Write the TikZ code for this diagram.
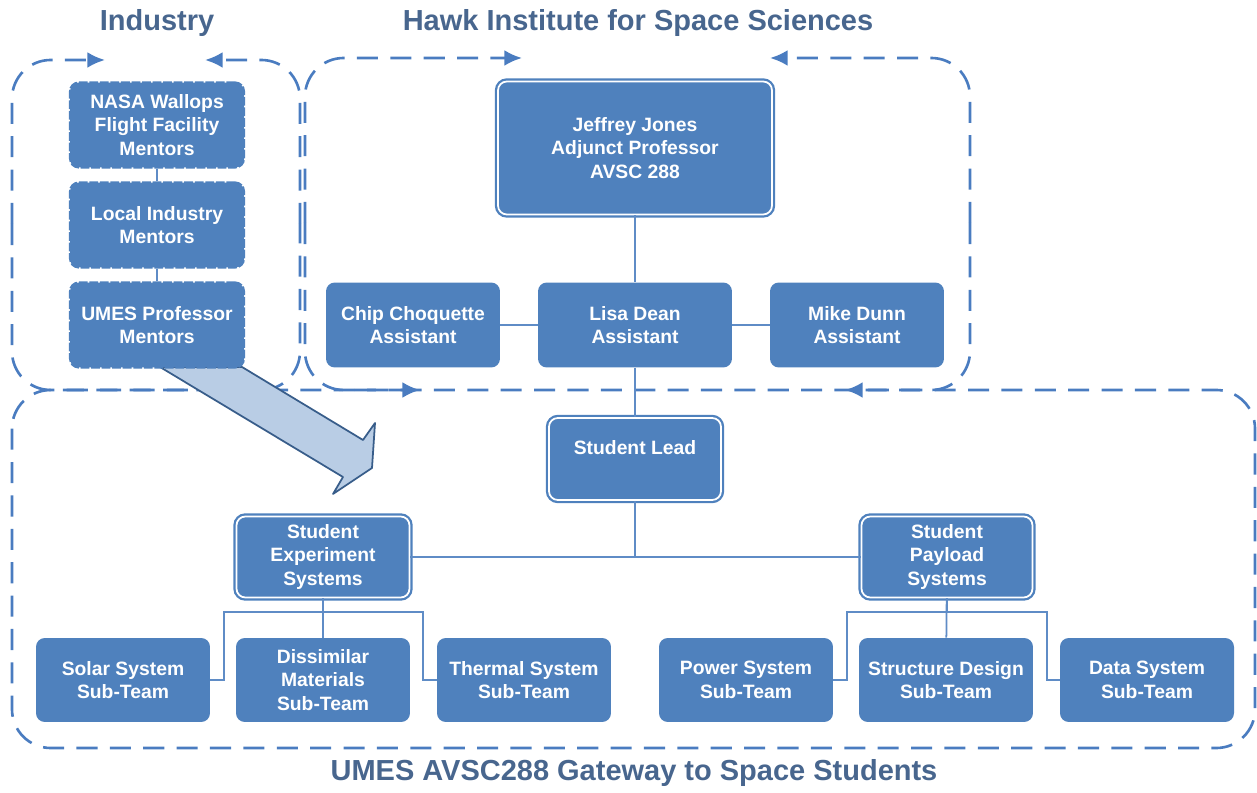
\documentclass[tikz,border=0pt]{standalone}
\usepackage{fontspec}
\setmainfont{Liberation Sans}
\usetikzlibrary{arrows.meta}
\definecolor{boxblue}{RGB}{79,129,189}
\definecolor{titleblue}{RGB}{72,102,142}
\definecolor{linkblue}{RGB}{95,140,198}
\definecolor{frameblue}{RGB}{74,124,192}
\definecolor{bigfill}{RGB}{185,205,229}
\definecolor{bigdraw}{RGB}{56,93,138}
\tikzset{
    orgbox/.style={rectangle, rounded corners=5pt, fill=boxblue, text=white,
        font=\bfseries\fontsize{11}{13.4}\selectfont, align=center, inner sep=1pt,
        minimum width=3.48cm, minimum height=1.7cm},
    mentor/.style={orgbox, draw=boxblue, line width=1.2pt, dash pattern=on 5pt off 1pt},
    headbox/.style={orgbox, draw=white, line width=1pt, preaction={draw=boxblue, line width=3.6pt}},
    link/.style={draw=linkblue, line width=1pt},
    frame/.style={draw=frameblue, line width=1.5pt, dash pattern=on 12pt off 7pt, rounded corners=22pt},
    cycletip/.style={-{Latex[length=10pt,width=9pt]}},
    heading/.style={text=titleblue, font=\bfseries\fontsize{16.5}{20}\selectfont}
}

\begin{document}
\begin{tikzpicture}[x=0.02cm, y=-0.02cm]
    \useasboundingbox (0,0) rectangle (1257,793);
    \draw [frame, cycletip] (12,224) |- (105,60);
    \draw [frame, cycletip] (300,224) |- (205,60);
    \draw [frame] (12,224) |- (156,390) -| (300,224);
    \draw [frame, cycletip] (305,223) |- (522,58);
    \draw [frame, cycletip] (970,223) |- (770,58);
    \draw [frame, cycletip] (305,223) |- (420,390);
    \draw [frame, cycletip] (970,223) |- (845,390);
    \draw [frame] (12,390) rectangle (1255,748);
    \draw [fill=bigfill, draw=bigdraw, line width=1pt, line join=round]
        (160,367) -- (343,477) -- (333,494) -- (372,468) -- (375,423) -- (363,440) -- (242,367) -- cycle;
    \node[heading] (indhead)  at (157,23)  {Industry};
    \node[heading] (hawkhead) at (638,23)  {Hawk Institute for Space Sciences};
    \node[heading] (gatehead) at (634,773) {UMES AVSC288 Gateway to Space Students};
    \node[mentor] (nasa)  at (157,125) {NASA Wallops\\Flight Facility\\Mentors};
    \node[mentor] (local) at (157,225) {Local Industry\\Mentors};
    \node[mentor] (umes)  at (157,325) {UMES Professor\\Mentors};
    \node[headbox, minimum width=5.48cm, minimum height=2.66cm] (jones) at (635,148) {Jeffrey Jones\\Adjunct Professor\\AVSC 288};
    \node[orgbox] (chip) at (413,325) {Chip Choquette\\Assistant};
    \node[orgbox, minimum width=3.88cm] (dean) at (635,325) {Lisa Dean\\Assistant};
    \node[orgbox] (dunn) at (857,325) {Mike Dunn\\Assistant};
    \node[headbox, minimum width=3.44cm, minimum height=1.64cm] (lead) at (635,459) {Student Lead\\\mbox{}};
    \node[headbox, minimum width=3.46cm, minimum height=1.62cm] (ses) at (323,557) {Student\\Experiment\\Systems};
    \node[headbox, minimum width=3.42cm, minimum height=1.62cm] (sps) at (947,557) {Student\\Payload\\Systems};
    \node[orgbox, minimum height=1.68cm] (solar)   at (123,680)  {Solar System\\Sub-Team};
    \node[orgbox, minimum height=1.68cm] (dissim)  at (323,680)  {Dissimilar\\Materials\\Sub-Team};
    \node[orgbox, minimum height=1.68cm] (thermal) at (524,680)  {Thermal System\\Sub-Team};
    \node[orgbox, minimum height=1.68cm] (power)   at (746,680)  {Power System\\Sub-Team};
    \node[orgbox, minimum height=1.68cm] (struct)  at (946,680)  {Structure Design\\Sub-Team};
    \node[orgbox, minimum height=1.68cm] (data)    at (1147,680) {Data System\\Sub-Team};
    \coordinate (split) at (635,557);
    \coordinate (sesl) at (224,612);
    \coordinate (sesr) at (423,612);
    \coordinate (spsl) at (847,612);
    \coordinate (spsr) at (1047,612);
    \draw [link] (nasa) -- (local);
    \draw [link] (local) -- (umes);
    \draw [link] (jones) -- (dean);
    \draw [link] (chip) -- (dean);
    \draw [link] (dean) -- (dunn);
    \draw [link] (dean) -- (lead);
    \draw [link] (lead) -- (split);
    \draw [link] (ses) -- (sps);
    \draw [link] (ses) -- (dissim);
    \draw [link] (ses.south) |- (sesl) |- (solar.east);
    \draw [link] (ses.south) |- (sesr) |- (thermal.west);
    \draw [link] (sps) -- (struct);
    \draw [link] (sps.south) |- (spsl) |- (power.east);
    \draw [link] (sps.south) |- (spsr) |- (data.west);
\end{tikzpicture}
\end{document}
